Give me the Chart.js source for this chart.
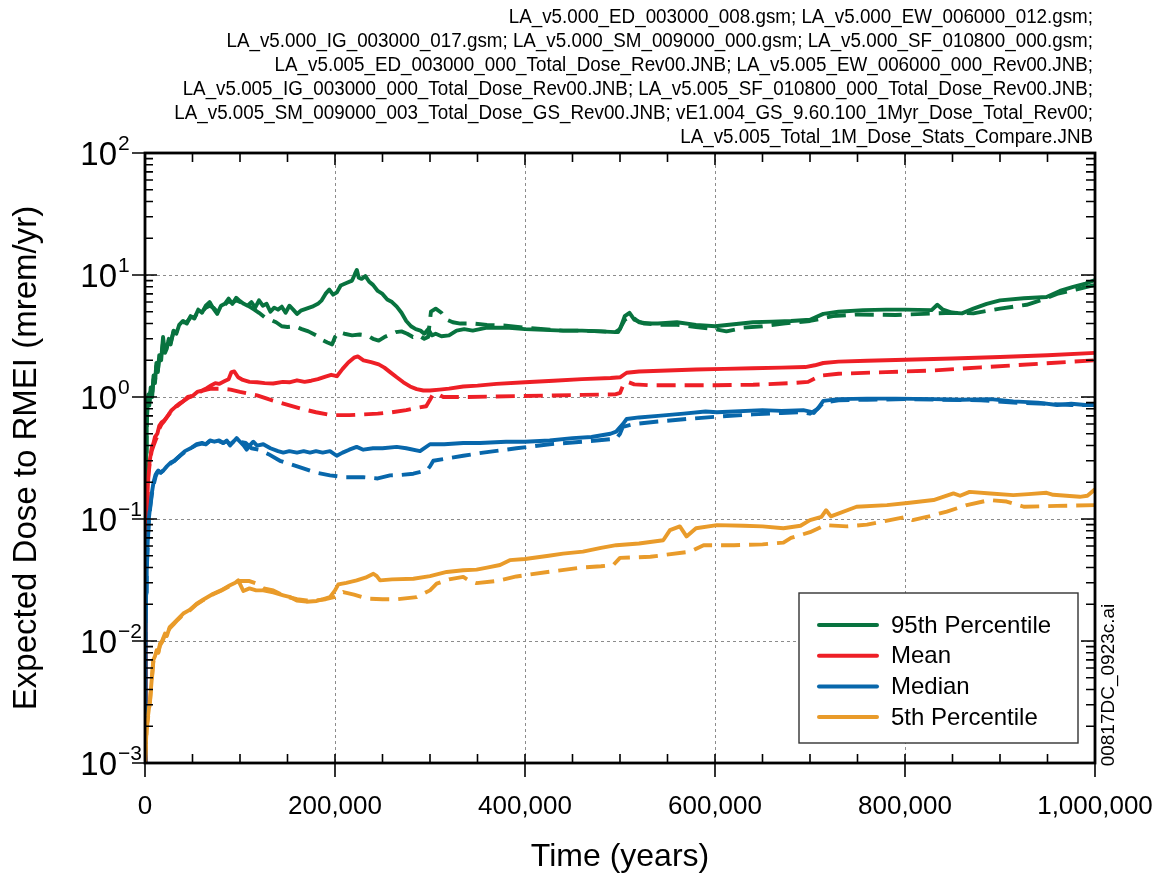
<!DOCTYPE html>
<html>
<head>
<meta charset="utf-8">
<title>Expected Dose to RMEI</title>
<script src="https://cdn.jsdelivr.net/npm/chart.js@4/dist/chart.umd.min.js"></script>
<style>
  html, body { margin: 0; padding: 0; background: #ffffff; }
  canvas { display: block; }
</style>
</head>
<body>
<canvas id="dose" width="1157" height="880"></canvas>
<script>
// ---- axis ticks ----
const timeTicks = [0, 200000, 400000, 600000, 800000, 1000000];
const doseDecades = [1e-3, 1e-2, 1e-1, 1e0, 1e1, 1e2];

// ---- source file notes (top right) ----
const fileNotes = [
  'LA_v5.000_ED_003000_008.gsm; LA_v5.000_EW_006000_012.gsm;',
  'LA_v5.000_IG_003000_017.gsm; LA_v5.000_SM_009000_000.gsm; LA_v5.000_SF_010800_000.gsm;',
  'LA_v5.005_ED_003000_000_Total_Dose_Rev00.JNB; LA_v5.005_EW_006000_000_Rev00.JNB;',
  'LA_v5.005_IG_003000_000_Total_Dose_Rev00.JNB; LA_v5.005_SF_010800_000_Total_Dose_Rev00.JNB;',
  'LA_v5.005_SM_009000_003_Total_Dose_GS_Rev00.JNB; vE1.004_GS_9.60.100_1Myr_Dose_Total_Rev00;',
  'LA_v5.005_Total_1M_Dose_Stats_Compare.JNB'
];
const figureId = '00817DC_0923c.ai';

// ---- series labels ----
const seriesNames = ['95th Percentile', 'Mean', 'Median', '5th Percentile'];

// ---- 95th percentile (solid) ----
const p95SolidT = [0, 600, 1200, 1800, 2600, 3500, 4500, 6000, 7500, 9000, 10500, 12000, 13500, 15000, 17000, 19000, 21000, 23000, 25000, 27000, 30000, 33000, 36000, 40000, 44000, 48000, 52000, 56000, 60000, 64000, 68000, 72000, 76000, 80000, 84000, 88000, 92000, 96000, 100000, 104000, 108000, 112000, 116000, 120000, 124000, 128000, 132000, 136000, 140000, 144000, 148000, 152000, 156000, 160000, 164000, 170000, 176000, 182000, 186000, 190000, 194000, 198000, 202000, 206000, 212000, 218000, 221000, 223000, 225000, 228000, 232000, 236000, 240000, 245000, 250000, 255000, 260000, 265000, 270000, 275000, 280000, 285000, 290000, 294000, 298000, 302000, 306000, 312000, 320000, 328000, 336000, 345000, 360000, 380000, 400000, 420000, 440000, 460000, 480000, 495000, 500000, 505000, 510000, 515000, 525000, 540000, 560000, 580000, 600000, 620000, 640000, 660000, 680000, 700000, 714000, 730000, 756000, 780000, 800000, 828000, 834000, 840000, 850000, 860000, 872000, 886000, 900000, 925000, 949000, 963000, 977000, 990000, 1000000];
const p95SolidV = [0.001, 0.08, 0.35, 0.6, 0.9, 1.05, 0.85, 1.2, 1.0, 1.5, 1.3, 1.9, 1.6, 2.2, 2.0, 3.1, 2.3, 2.5, 3.0, 2.7, 3.5, 3.3, 3.9, 4.2, 4.0, 4.6, 4.4, 5.2, 4.9, 5.6, 6.0, 5.3, 4.8, 5.6, 5.8, 6.4, 5.8, 6.5, 6.1, 5.8, 5.6, 6.0, 5.4, 6.2, 5.6, 5.8, 5.0, 5.4, 5.2, 5.5, 4.9, 5.6, 5.2, 4.8, 5.1, 5.3, 5.5, 5.8, 6.2, 7.0, 7.6, 6.9, 7.2, 8.2, 8.6, 9.0, 10.2, 11.0, 9.5, 9.3, 9.8, 8.8, 8.3, 7.4, 7.0, 6.3, 6.0, 5.5, 4.9, 4.2, 3.8, 3.6, 3.5, 3.3, 3.6, 3.2, 3.3, 3.15, 3.2, 3.5, 3.6, 3.5, 3.7, 3.7, 3.6, 3.55, 3.5, 3.5, 3.45, 3.4, 3.6, 4.6, 4.9, 4.3, 4.0, 4.0, 4.1, 3.9, 3.8, 3.95, 4.1, 4.15, 4.2, 4.3, 4.8, 5.0, 5.15, 5.2, 5.2, 5.15, 5.7, 5.2, 4.9, 4.85, 5.3, 5.8, 6.2, 6.45, 6.6, 7.4, 8.0, 8.5, 9.1];

// ---- 95th percentile (dashed) ----
const p95DashT = [0, 600, 1200, 1800, 2600, 3500, 4500, 6000, 7500, 9000, 10500, 12000, 13500, 15000, 17000, 19000, 21000, 23000, 25000, 27000, 30000, 33000, 36000, 40000, 44000, 48000, 52000, 56000, 60000, 64000, 68000, 72000, 76000, 80000, 84000, 88000, 92000, 96000, 100000, 105000, 110000, 115000, 120000, 126000, 132000, 138000, 144000, 150000, 158000, 165000, 172000, 180000, 186000, 192000, 197000, 200000, 204000, 210000, 218000, 226000, 234000, 240000, 246000, 252000, 258000, 264000, 270000, 276000, 282000, 288000, 294000, 298000, 301000, 306000, 312000, 318000, 324000, 332000, 345000, 360000, 380000, 400000, 420000, 440000, 460000, 480000, 498000, 505000, 512000, 520000, 540000, 560000, 580000, 600000, 612000, 630000, 650000, 672000, 700000, 724000, 750000, 790000, 820000, 850000, 872000, 900000, 928000, 945000, 960000, 980000, 1000000];
const p95DashV = [0.001, 0.07, 0.32, 0.58, 0.85, 1.0, 0.9, 1.15, 1.05, 1.4, 1.35, 1.8, 1.65, 2.1, 2.1, 2.8, 2.4, 2.6, 2.9, 2.8, 3.4, 3.4, 3.8, 4.1, 4.1, 4.5, 4.5, 5.0, 5.0, 5.4, 5.6, 5.4, 5.0, 5.5, 5.7, 6.1, 5.9, 6.2, 6.0, 5.9, 5.5, 5.2, 4.9, 4.5, 4.3, 4.1, 3.8, 3.75, 3.8, 3.6, 3.45, 3.2, 2.95, 2.8, 2.7, 3.1, 3.4, 3.3, 3.2, 3.25, 3.2, 3.0, 2.9, 3.1, 3.25, 3.4, 3.45, 3.3, 3.1, 3.2, 3.0, 3.1, 5.0, 5.3, 4.9, 4.3, 4.1, 4.0, 4.0, 3.9, 3.85, 3.7, 3.6, 3.5, 3.5, 3.45, 3.4, 4.3, 4.6, 4.1, 3.9, 3.9, 3.75, 3.6, 3.45, 3.7, 3.8, 4.0, 4.2, 4.6, 4.75, 4.7, 4.8, 4.9, 4.85, 5.3, 5.7, 6.3, 7.0, 7.6, 8.3];

// ---- mean (solid) ----
const meanSolidT = [0, 800, 1500, 2500, 3500, 5000, 7000, 9000, 10500, 13000, 15000, 17500, 20000, 24000, 28000, 32000, 36000, 40000, 45000, 50000, 55000, 60000, 65000, 70000, 74000, 78000, 84000, 88000, 91000, 94000, 98000, 103000, 110000, 118000, 126000, 135000, 145000, 152000, 160000, 168000, 175000, 182000, 190000, 196000, 202000, 208000, 214000, 220000, 224000, 230000, 238000, 246000, 252000, 258000, 265000, 272000, 279000, 286000, 293000, 300000, 310000, 320000, 335000, 350000, 370000, 400000, 430000, 460000, 490000, 500000, 507000, 520000, 550000, 580000, 610000, 640000, 670000, 695000, 705000, 714000, 730000, 760000, 800000, 850000, 900000, 950000, 1000000];
const meanSolidV = [0.001, 0.02, 0.07, 0.15, 0.24, 0.3, 0.38, 0.42, 0.47, 0.5, 0.58, 0.62, 0.64, 0.7, 0.78, 0.83, 0.88, 0.92, 1.0, 1.02, 1.1, 1.13, 1.18, 1.25, 1.3, 1.28, 1.35, 1.4, 1.6, 1.62, 1.45, 1.38, 1.33, 1.32, 1.3, 1.29, 1.33, 1.32, 1.37, 1.33, 1.36, 1.4, 1.47, 1.52, 1.48, 1.7, 1.92, 2.1, 2.15, 2.0, 1.93, 1.85, 1.74, 1.6, 1.45, 1.32, 1.22, 1.16, 1.13, 1.13, 1.15, 1.17, 1.22, 1.24, 1.28, 1.32, 1.36, 1.4, 1.43, 1.45, 1.58, 1.62, 1.65, 1.68, 1.7, 1.72, 1.74, 1.76, 1.82, 1.9, 1.95, 1.98, 2.02, 2.07, 2.13, 2.2, 2.3];

// ---- mean (dashed) ----
const meanDashT = [0, 800, 1500, 2500, 3500, 5000, 7000, 9000, 11000, 13000, 15000, 17500, 20000, 24000, 28000, 32000, 36000, 40000, 45000, 50000, 55000, 60000, 65000, 70000, 80000, 90000, 100000, 110000, 118000, 130000, 142000, 153000, 165000, 180000, 192000, 200000, 215000, 230000, 245000, 260000, 275000, 288000, 296000, 300000, 303000, 308000, 314000, 320000, 340000, 370000, 400000, 430000, 460000, 495000, 500000, 504000, 508000, 515000, 530000, 560000, 600000, 640000, 680000, 698000, 705000, 712000, 730000, 780000, 830000, 880000, 940000, 1000000];
const meanDashV = [0.001, 0.02, 0.065, 0.14, 0.22, 0.29, 0.36, 0.4, 0.44, 0.48, 0.55, 0.6, 0.63, 0.7, 0.77, 0.82, 0.87, 0.92, 0.98, 1.02, 1.08, 1.12, 1.15, 1.17, 1.17, 1.15, 1.1, 1.06, 1.03, 0.96, 0.9, 0.85, 0.8, 0.75, 0.72, 0.71, 0.71, 0.72, 0.73, 0.75, 0.78, 0.82, 0.84, 0.95, 1.05, 1.06, 1.0, 1.0, 1.0, 1.01, 1.02, 1.03, 1.04, 1.05, 1.08, 1.28, 1.33, 1.27, 1.25, 1.25, 1.25, 1.26, 1.3, 1.33, 1.42, 1.5, 1.55, 1.6, 1.65, 1.75, 1.87, 2.0];

// ---- median (solid) ----
const medSolidT = [0, 600, 1200, 1800, 3000, 4000, 5300, 7000, 9000, 11000, 12300, 14000, 16500, 19300, 23000, 27000, 31000, 36800, 42000, 48000, 54400, 60000, 64000, 68400, 73000, 78000, 82400, 86000, 89500, 93000, 96500, 100000, 104000, 107000, 110000, 114000, 118000, 124500, 132000, 140000, 145600, 152000, 160000, 167000, 173700, 180000, 187000, 194700, 201800, 208000, 215000, 222800, 229800, 240000, 250000, 265000, 275000, 289500, 300000, 315000, 335000, 352600, 380000, 400000, 426000, 450000, 470000, 490000, 496000, 503000, 507000, 520000, 540000, 567000, 590000, 602000, 620000, 650000, 670000, 693000, 700000, 704000, 709000, 714000, 730000, 760000, 790000, 830000, 860000, 890000, 914000, 940000, 960000, 975000, 990000, 1000000];
const medSolidV = [0.001, 0.01, 0.025, 0.04, 0.07, 0.1, 0.125, 0.16, 0.2, 0.23, 0.24, 0.25, 0.24, 0.25, 0.27, 0.29, 0.3, 0.33, 0.36, 0.38, 0.41, 0.42, 0.41, 0.44, 0.43, 0.44, 0.42, 0.44, 0.4, 0.43, 0.46, 0.43, 0.4, 0.37, 0.4, 0.43, 0.4, 0.41, 0.38, 0.36, 0.35, 0.36, 0.35, 0.36, 0.35, 0.36, 0.35, 0.36, 0.33, 0.35, 0.37, 0.39, 0.37, 0.38, 0.38, 0.39, 0.38, 0.36, 0.41, 0.41, 0.42, 0.42, 0.43, 0.43, 0.44, 0.46, 0.47, 0.5, 0.52, 0.6, 0.66, 0.68, 0.7, 0.73, 0.76, 0.75, 0.76, 0.78, 0.77, 0.78, 0.76, 0.74, 0.82, 0.93, 0.96, 0.97, 0.97, 0.96, 0.95, 0.96, 0.92, 0.9, 0.86, 0.88, 0.86, 0.88];

// ---- median (dashed) ----
const medDashT = [0, 600, 1200, 1800, 3000, 4000, 5300, 7000, 9000, 11000, 12300, 14000, 16500, 19300, 23000, 27000, 31000, 36800, 42000, 48000, 54400, 60000, 64000, 68400, 73000, 78000, 82400, 86000, 89500, 93000, 96500, 100000, 106000, 112000, 120000, 130000, 142000, 154000, 166600, 180000, 194700, 210000, 229800, 245000, 257900, 270000, 282500, 296500, 300000, 303500, 314000, 335000, 356000, 391000, 426000, 460000, 496000, 500000, 503000, 515000, 540000, 570000, 602000, 640000, 670000, 693000, 700000, 708000, 714000, 730000, 760000, 800000, 840000, 880000, 914000, 950000, 975000, 1000000];
const medDashV = [0.001, 0.009, 0.022, 0.037, 0.065, 0.095, 0.12, 0.155, 0.19, 0.22, 0.235, 0.245, 0.24, 0.25, 0.27, 0.285, 0.3, 0.33, 0.355, 0.38, 0.405, 0.415, 0.41, 0.435, 0.43, 0.435, 0.42, 0.435, 0.41, 0.43, 0.45, 0.43, 0.42, 0.38, 0.37, 0.34, 0.3, 0.28, 0.26, 0.24, 0.228, 0.22, 0.22, 0.215, 0.228, 0.23, 0.235, 0.25, 0.27, 0.3, 0.31, 0.33, 0.35, 0.38, 0.41, 0.43, 0.455, 0.5, 0.57, 0.6, 0.63, 0.66, 0.69, 0.72, 0.74, 0.75, 0.73, 0.8, 0.9, 0.94, 0.95, 0.96, 0.95, 0.94, 0.9, 0.88, 0.86, 0.86];

// ---- 5th percentile (solid) ----
const p5SolidT = [0, 1800, 5300, 8800, 10500, 12300, 14000, 15800, 18000, 21000, 23000, 26000, 29800, 34000, 40300, 47000, 54400, 62000, 71900, 80000, 89500, 95000, 98200, 103500, 110000, 117000, 124500, 135000, 145600, 152000, 159700, 170000, 180700, 188000, 194700, 200000, 203500, 212000, 222800, 232000, 240400, 244000, 247400, 260000, 282500, 300000, 317600, 335000, 349000, 360000, 373700, 384000, 400000, 425000, 440000, 461000, 480000, 496000, 520000, 545500, 552600, 563000, 570000, 580000, 602000, 630000, 650000, 672000, 690000, 700000, 712000, 717000, 722000, 749000, 781000, 805000, 830000, 851000, 858000, 868000, 890000, 914000, 930000, 949000, 956000, 984000, 992000, 1000000];
const p5SolidV = [0.001, 0.002, 0.0033, 0.007, 0.0075, 0.0084, 0.008, 0.0095, 0.01, 0.0115, 0.011, 0.013, 0.0139, 0.015, 0.0168, 0.018, 0.0202, 0.022, 0.0244, 0.026, 0.0286, 0.03, 0.0314, 0.0257, 0.027, 0.026, 0.026, 0.025, 0.0237, 0.023, 0.0215, 0.021, 0.0213, 0.022, 0.0229, 0.026, 0.0291, 0.03, 0.0314, 0.033, 0.0356, 0.034, 0.0314, 0.032, 0.0324, 0.034, 0.0368, 0.038, 0.0385, 0.04, 0.042, 0.046, 0.047, 0.05, 0.052, 0.054, 0.058, 0.061, 0.063, 0.067, 0.081, 0.087, 0.072, 0.084, 0.089, 0.088, 0.087, 0.084, 0.088, 0.098, 0.104, 0.118, 0.105, 0.126, 0.13, 0.136, 0.143, 0.162, 0.155, 0.167, 0.162, 0.157, 0.16, 0.164, 0.158, 0.152, 0.155, 0.175];

// ---- 5th percentile (dashed) ----
const p5DashT = [0, 1800, 5300, 8800, 10500, 12300, 14000, 15800, 18000, 21000, 23000, 26000, 29800, 34000, 40300, 47000, 54400, 62000, 71900, 80000, 89500, 95000, 100000, 110000, 117600, 125000, 135000, 142000, 150000, 160000, 170000, 180000, 190000, 200000, 208700, 220000, 228000, 236800, 250000, 265000, 286000, 300000, 307000, 320000, 335000, 342000, 349000, 370000, 391000, 426000, 460000, 480000, 493000, 500000, 532000, 574000, 588000, 620000, 650000, 672000, 680000, 700000, 716000, 739000, 760000, 784000, 801000, 808000, 825000, 844000, 865000, 889000, 907000, 925000, 960000, 1000000];
const p5DashV = [0.001, 0.0019, 0.0032, 0.0068, 0.0074, 0.0082, 0.0081, 0.0092, 0.0098, 0.0112, 0.0112, 0.0127, 0.0136, 0.0148, 0.0165, 0.0178, 0.02, 0.0218, 0.0242, 0.0258, 0.0283, 0.0298, 0.031, 0.031, 0.0295, 0.027, 0.026, 0.0244, 0.023, 0.022, 0.0215, 0.0215, 0.022, 0.023, 0.0252, 0.024, 0.023, 0.0222, 0.022, 0.022, 0.0229, 0.026, 0.0295, 0.032, 0.0335, 0.031, 0.0298, 0.031, 0.0338, 0.037, 0.04, 0.041, 0.042, 0.048, 0.049, 0.054, 0.061, 0.061, 0.062, 0.064, 0.07, 0.078, 0.089, 0.087, 0.09, 0.098, 0.104, 0.098, 0.105, 0.115, 0.13, 0.143, 0.139, 0.126, 0.128, 0.13];

// ---- colours ----
const GREEN = '#08733F';
const RED = '#EE1F26';
const BLUE = '#0867AB';
const ORANGE = '#E99B2A';

const FONT = '"Liberation Sans", Arial, Helvetica, sans-serif';

function pairs(ts, vs) {
  return ts.map((t, i) => ({ x: t, y: vs[i] }));
}

function seriesSet(label, color, ts, vs, dashed) {
  return {
    label: dashed ? label + ' (dashed)' : label,
    data: pairs(ts, vs),
    borderColor: color,
    backgroundColor: color,
    borderWidth: 3.9,
    borderDash: dashed ? [19, 9] : [],
    fill: false,
    pointRadius: 0,
    tension: 0,
    showInKey: !dashed
  };
}

const datasets = [
  seriesSet(seriesNames[3], ORANGE, p5DashT, p5DashV, true),
  seriesSet(seriesNames[2], BLUE, medDashT, medDashV, true),
  seriesSet(seriesNames[1], RED, meanDashT, meanDashV, true),
  seriesSet(seriesNames[0], GREEN, p95DashT, p95DashV, true),
  seriesSet(seriesNames[3], ORANGE, p5SolidT, p5SolidV, false),
  seriesSet(seriesNames[2], BLUE, medSolidT, medSolidV, false),
  seriesSet(seriesNames[1], RED, meanSolidT, meanSolidV, false),
  seriesSet(seriesNames[0], GREEN, p95SolidT, p95SolidV, false)
];

// exponent text of a decade value, with a true minus sign
function exponentOf(v) {
  const e = Math.round(Math.log10(v));
  return e < 0 ? '\u2212' + String(-e) : String(e);
}

// frame, tick marks, power-of-ten labels, key and notes
const decorations = {
  id: 'decorations',
  afterDraw(chart) {
    const { ctx, chartArea: a, scales } = chart;
    const xs = scales.x, ys = scales.y;
    ctx.save();
    ctx.strokeStyle = '#000';
    ctx.lineCap = 'butt';

    // tick marks
    ctx.lineWidth = 1.6;
    ctx.beginPath();
    for (let t = 0; t <= 1000000; t += 50000) {
      const px = xs.getPixelForValue(t);
      const major = t % 200000 === 0;
      ctx.moveTo(px, a.bottom - 9); ctx.lineTo(px, major ? a.bottom + 14 : a.bottom);
      ctx.moveTo(px, a.top); ctx.lineTo(px, a.top + (major ? 12 : 9));
    }
    for (let k = -3; k <= 2; k++) {
      const base = Math.pow(10, k);
      const py = ys.getPixelForValue(base);
      ctx.moveTo(a.left - 13, py); ctx.lineTo(a.left + 12, py);
      ctx.moveTo(a.right - 14, py); ctx.lineTo(a.right, py);
      if (k < 2) {
        for (let m = 2; m <= 9; m++) {
          const my = ys.getPixelForValue(m * base);
          ctx.moveTo(a.left, my); ctx.lineTo(a.left + 8, my);
          ctx.moveTo(a.right - 9, my); ctx.lineTo(a.right, my);
        }
      }
    }
    ctx.stroke();

    // frame
    ctx.lineWidth = 2.8;
    ctx.strokeRect(a.left, a.top, a.right - a.left, a.bottom - a.top);

    // decade labels: "10" with a raised exponent
    ctx.fillStyle = '#000';
    doseDecades.forEach(v => {
      const py = ys.getPixelForValue(v);
      ctx.font = '33px ' + FONT;
      ctx.textAlign = 'right';
      ctx.textBaseline = 'alphabetic';
      ctx.fillText('10', 117, py + 12);
      ctx.font = '21px ' + FONT;
      ctx.textAlign = 'left';
      ctx.fillText(exponentOf(v), 118, py - 3);
    });

    // key
    const keyBox = { x: 799, y: 593, w: 279, h: 150 };
    ctx.fillStyle = '#fff';
    ctx.fillRect(keyBox.x, keyBox.y, keyBox.w, keyBox.h);
    ctx.lineWidth = 1.4;
    ctx.strokeStyle = '#333';
    ctx.strokeRect(keyBox.x, keyBox.y, keyBox.w, keyBox.h);
    const entries = chart.data.datasets.filter(d => d.showInKey).reverse();
    ctx.font = '24px ' + FONT;
    ctx.textBaseline = 'middle';
    ctx.textAlign = 'left';
    entries.forEach((d, i) => {
      const cy = 625 + i * 30.7;
      ctx.strokeStyle = d.borderColor;
      ctx.lineWidth = 4;
      ctx.lineCap = 'round';
      ctx.beginPath();
      ctx.moveTo(819, cy); ctx.lineTo(877, cy);
      ctx.stroke();
      ctx.fillStyle = '#000';
      ctx.fillText(d.label, 891, cy + 1);
    });

    // source notes, right aligned, condensed
    ctx.fillStyle = '#000';
    ctx.font = '20px ' + FONT;
    ctx.textAlign = 'right';
    ctx.textBaseline = 'middle';
    fileNotes.forEach((line, i) => {
      ctx.save();
      ctx.translate(1093, 17 + i * 24);
      ctx.scale(0.94, 1);
      ctx.fillText(line, 0, 0);
      ctx.restore();
    });

    // figure id, rotated
    ctx.save();
    ctx.translate(1109, 685);
    ctx.rotate(-Math.PI / 2);
    ctx.font = '19px ' + FONT;
    ctx.textAlign = 'center';
    ctx.textBaseline = 'middle';
    ctx.fillText(figureId, 0, 0);
    ctx.restore();

    ctx.restore();
  }
};

new Chart(document.getElementById('dose'), {
  type: 'line',
  data: { datasets },
  options: {
    responsive: false,
    animation: false,
    events: [],
    layout: { padding: { top: 153, right: 62, left: 0, bottom: 0 } },
    plugins: { legend: { display: false }, tooltip: { enabled: false }, title: { display: false } },
    elements: { line: { borderJoinStyle: 'round', borderCapStyle: 'butt' } },
    scales: {
      x: {
        type: 'linear',
        min: 0,
        max: 1000000,
        afterFit(s) { s.height = 117; s.paddingLeft = 0; s.paddingRight = 0; },
        afterBuildTicks(s) { s.ticks = timeTicks.map(v => ({ value: v })); },
        ticks: {
          callback: v => Number(v).toLocaleString('en-US'),
          color: '#000',
          font: { family: FONT, size: 26 },
          padding: 28,
          maxRotation: 0,
          autoSkip: false
        },
        grid: { color: '#8c8c8c', lineWidth: 1, drawTicks: false },
        border: { display: false, dash: [3, 3] },
        title: {
          display: true,
          text: 'Time (years)',
          color: '#000',
          font: { family: FONT, size: 32 },
          padding: { top: 0, bottom: 4 }
        }
      },
      y: {
        type: 'logarithmic',
        min: 1e-3,
        max: 1e2,
        afterFit(s) { s.width = 145; s.paddingTop = 0; s.paddingBottom = 0; },
        afterBuildTicks(s) { s.ticks = doseDecades.map(v => ({ value: v })); },
        ticks: { display: false },
        grid: { color: '#8c8c8c', lineWidth: 1, drawTicks: false },
        border: { display: false, dash: [3, 3] },
        title: {
          display: true,
          text: 'Expected Dose to RMEI (mrem/yr)',
          color: '#000',
          font: { family: FONT, size: 33 },
          padding: { top: 7, bottom: 0 }
        }
      }
    }
  },
  plugins: [decorations]
});
</script>
</body>
</html>
